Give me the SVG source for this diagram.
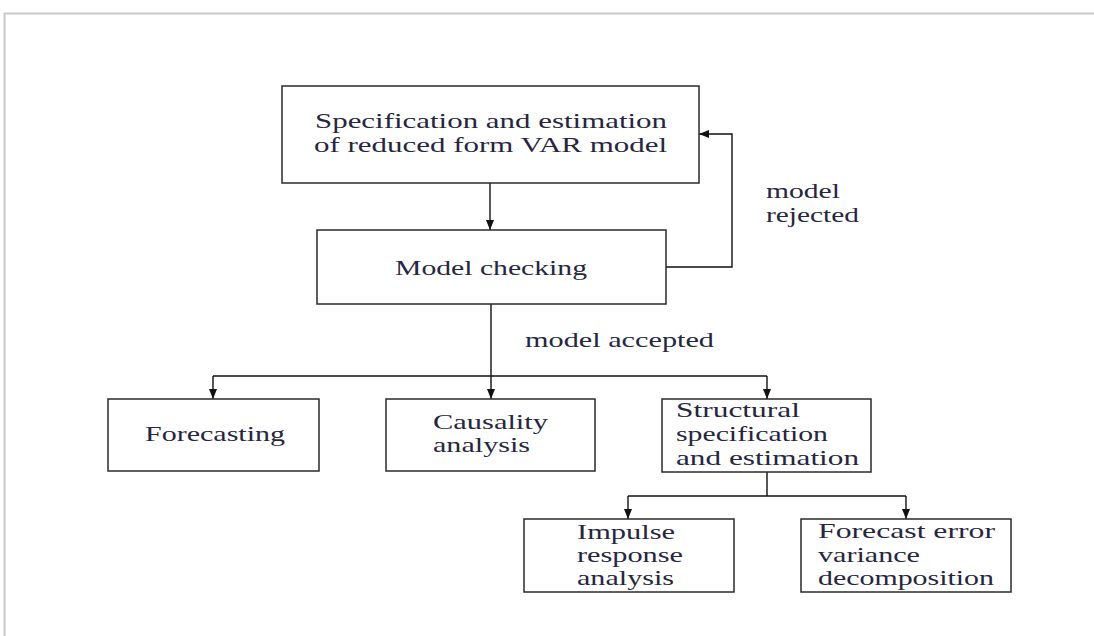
<svg xmlns="http://www.w3.org/2000/svg" width="1094" height="636" viewBox="0 0 1094 636">
  <style>
    .box { fill: #ffffff; stroke: #2a2a2a; stroke-width: 1.5; }
    .lbl { font-family: "Liberation Serif", "Times New Roman", serif; font-size: 21px; fill: #26263e; }
    .conn { fill: none; stroke: #111111; stroke-width: 1.4; }
    .frame { fill: none; stroke: #c9c9c9; stroke-width: 2; }
  </style>
  <defs>
    <marker id="arr" markerUnits="userSpaceOnUse" markerWidth="10" markerHeight="10" viewBox="0 0 10 10" refX="10" refY="5" orient="auto">
      <path d="M0,1 L10,5 L0,9 Z" fill="#111111"/>
    </marker>
  </defs>
  <rect x="0" y="0" width="1094" height="636" fill="#ffffff"/>
  <path class="frame" d="M4.5,636 V13.5 H1094"/>

  <g id="connectors">
    <path class="conn" d="M490,183 V230" marker-end="url(#arr)"/>
    <path class="conn" d="M666,267 H732 V134 H699" marker-end="url(#arr)"/>
    <path class="conn" d="M491,304 V399" marker-end="url(#arr)"/>
    <path class="conn" d="M213,376 H767"/>
    <path class="conn" d="M213,376 V399" marker-end="url(#arr)"/>
    <path class="conn" d="M767,376 V399" marker-end="url(#arr)"/>
    <path class="conn" d="M767,472 V496"/>
    <path class="conn" d="M628,496 H906"/>
    <path class="conn" d="M628,496 V519" marker-end="url(#arr)"/>
    <path class="conn" d="M906,496 V519" marker-end="url(#arr)"/>
    <text class="lbl" x="766" y="198" textLength="74" lengthAdjust="spacingAndGlyphs">model</text>
    <text class="lbl" x="766" y="222" textLength="93" lengthAdjust="spacingAndGlyphs">rejected</text>
    <text class="lbl" x="525" y="347" textLength="189" lengthAdjust="spacingAndGlyphs">model accepted</text>
  </g>

  <g id="spec">
    <rect class="box" x="282" y="86" width="417" height="97"/>
    <text class="lbl" x="315" y="128" textLength="352" lengthAdjust="spacingAndGlyphs">Specification and estimation</text>
    <text class="lbl" x="314" y="152" textLength="353" lengthAdjust="spacingAndGlyphs">of reduced form VAR model</text>
  </g>

  <g id="check">
    <rect class="box" x="317" y="230" width="349" height="74"/>
    <text class="lbl" x="395" y="275" textLength="192" lengthAdjust="spacingAndGlyphs">Model checking</text>
  </g>

  <g id="forecasting">
    <rect class="box" x="108" y="399" width="211" height="72"/>
    <text class="lbl" x="145" y="441" textLength="140" lengthAdjust="spacingAndGlyphs">Forecasting</text>
  </g>

  <g id="causality">
    <rect class="box" x="386" y="399" width="209" height="72"/>
    <text class="lbl" x="433" y="429" textLength="115" lengthAdjust="spacingAndGlyphs">Causality</text>
    <text class="lbl" x="433" y="452" textLength="97" lengthAdjust="spacingAndGlyphs">analysis</text>
  </g>

  <g id="structural">
    <rect class="box" x="662" y="399" width="209" height="73"/>
    <text class="lbl" x="676" y="417" textLength="124" lengthAdjust="spacingAndGlyphs">Structural</text>
    <text class="lbl" x="676" y="441" textLength="152" lengthAdjust="spacingAndGlyphs">specification</text>
    <text class="lbl" x="676" y="465" textLength="183" lengthAdjust="spacingAndGlyphs">and estimation</text>
  </g>

  <g id="impulse">
    <rect class="box" x="524" y="519" width="210" height="73"/>
    <text class="lbl" x="577" y="539" textLength="98" lengthAdjust="spacingAndGlyphs">Impulse</text>
    <text class="lbl" x="577" y="562" textLength="106" lengthAdjust="spacingAndGlyphs">response</text>
    <text class="lbl" x="577" y="585" textLength="97" lengthAdjust="spacingAndGlyphs">analysis</text>
  </g>

  <g id="fevd">
    <rect class="box" x="801" y="519" width="210" height="73"/>
    <text class="lbl" x="818" y="538" textLength="177" lengthAdjust="spacingAndGlyphs">Forecast error</text>
    <text class="lbl" x="818" y="562" textLength="102" lengthAdjust="spacingAndGlyphs">variance</text>
    <text class="lbl" x="818" y="585" textLength="176" lengthAdjust="spacingAndGlyphs">decomposition</text>
  </g>
</svg>
